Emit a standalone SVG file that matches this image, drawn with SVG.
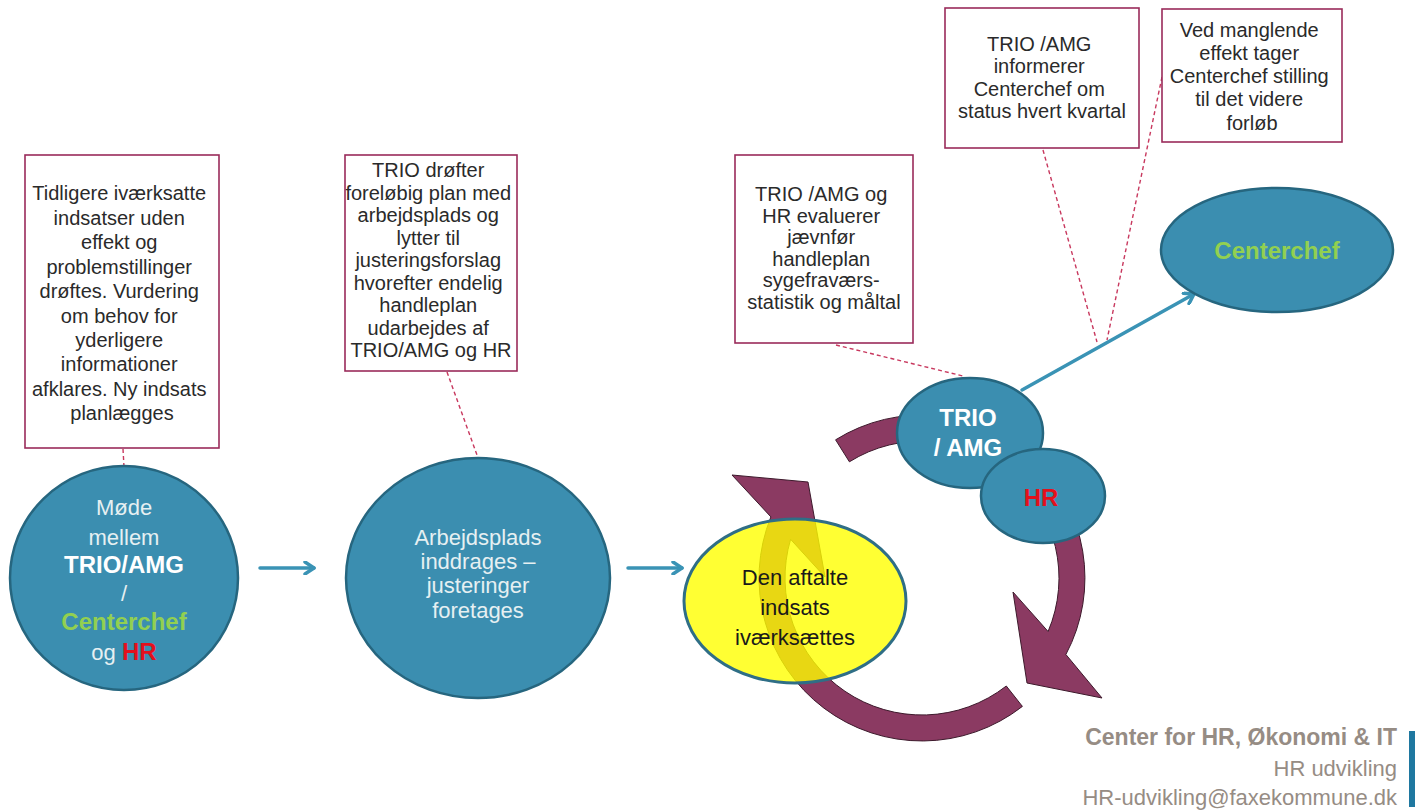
<svg xmlns="http://www.w3.org/2000/svg" width="1426" height="811" viewBox="0 0 1426 811">
<style>
.box{fill:#fff;stroke:#9A2B5A;stroke-width:1.6}
.bt{font-family:"Liberation Sans",Arial,sans-serif;font-size:20px;fill:#2a2a2a;text-anchor:middle}
.blue{fill:#3B8EB0;stroke:#26667F;stroke-width:2.5}
.ct{font-family:"Liberation Sans",Arial,sans-serif;font-size:22px;fill:#E6F0F2;text-anchor:middle}
.b{font-weight:bold;font-size:24px}
.w{fill:#FFFFFF}
.g{fill:#92D050}
.r{fill:#E3101C}
.dash{stroke:#C8385E;stroke-width:1.4;stroke-dasharray:4 3;fill:none}
.arr{stroke:#3A93B5;stroke-width:3.5;fill:none;stroke-linecap:round}
.cyc{fill:#8B3A62;stroke:#3D1A2C;stroke-width:1}
.ft{font-family:"Liberation Sans",Arial,sans-serif;fill:#968C84;text-anchor:end}
</style>
<defs>
<marker id="chev" markerWidth="14" markerHeight="14" refX="11" refY="7" orient="auto" markerUnits="userSpaceOnUse">
<path d="M2,1 L11,7 L2,13" fill="none" stroke="#3A93B5" stroke-width="3.5" stroke-linecap="round" stroke-linejoin="round"/>
</marker>
</defs>
<rect width="1426" height="811" fill="#fff"/>

<g id="cycle-arrows">
<path class="cyc" d="M835.6,439.8 A163,163 0 0 1 1065.9,654.5 L1102,698 L1027,683 L1013,592 L1048.1,631.5 A137,137 0 0 0 849.4,461.8 Z"/>
<path class="cyc" d="M1022.4,706.4 A163,163 0 0 1 770.9,516.9 L732,475 L808,482 L825,577 L790.6,539.3 A137,137 0 0 0 1006.3,686 Z"/>
</g>

<g id="connectors">
<line class="dash" x1="123" y1="449" x2="124" y2="467"/>
<line class="dash" x1="447" y1="372" x2="477" y2="455"/>
<line class="dash" x1="836" y1="345" x2="963" y2="376"/>
<line class="dash" x1="1043" y1="150" x2="1097" y2="342"/>
<line class="dash" x1="1162" y1="77" x2="1107" y2="340"/>
<line class="arr" x1="260" y1="568" x2="314" y2="568" marker-end="url(#chev)"/>
<line class="arr" x1="628" y1="568" x2="682" y2="568" marker-end="url(#chev)"/>
<line class="arr" x1="1022" y1="390" x2="1194" y2="294" marker-end="url(#chev)"/>
</g>

<g id="box-tidligere">
<rect class="box" x="25" y="155" width="194" height="293"/>
<text class="bt">
<tspan x="122" y="200">Tidligere iværksatte</tspan>
<tspan x="122" y="225">indsatser uden</tspan>
<tspan x="122" y="249">effekt  og</tspan>
<tspan x="122" y="274">problemstillinger</tspan>
<tspan x="122" y="298">drøftes. Vurdering</tspan>
<tspan x="122" y="323">om behov for</tspan>
<tspan x="122" y="347">yderligere</tspan>
<tspan x="122" y="371">informationer</tspan>
<tspan x="122" y="396">afklares. Ny indsats</tspan>
<tspan x="122" y="420">planlægges</tspan>
</text>
</g>

<g id="box-trio-droefter">
<rect class="box" x="345" y="155" width="172" height="216"/>
<text class="bt">
<tspan x="431" y="177">TRIO drøfter</tspan>
<tspan x="431" y="199.5">foreløbig  plan med</tspan>
<tspan x="431" y="222">arbejdsplads og</tspan>
<tspan x="431" y="244.5">lytter  til</tspan>
<tspan x="431" y="267">justeringsforslag</tspan>
<tspan x="431" y="289.5">hvorefter  endelig</tspan>
<tspan x="431" y="312">handleplan</tspan>
<tspan x="431" y="334.5">udarbejdes af</tspan>
<tspan x="431" y="357">TRIO/AMG og HR</tspan>
</text>
</g>

<g id="box-evaluerer">
<rect class="box" x="735" y="155" width="178" height="188"/>
<text class="bt">
<tspan x="824" y="201">TRIO /AMG og</tspan>
<tspan x="824" y="222.6">HR evaluerer</tspan>
<tspan x="824" y="244.2">jævnfør</tspan>
<tspan x="824" y="265.8">handleplan</tspan>
<tspan x="824" y="287.4">sygefraværs-</tspan>
<tspan x="824" y="309">statistik og måltal</tspan>
</text>
</g>

<g id="box-informerer">
<rect class="box" x="945" y="8" width="194" height="140"/>
<text class="bt">
<tspan x="1042" y="51">TRIO /AMG</tspan>
<tspan x="1042" y="73.3">informerer</tspan>
<tspan x="1042" y="95.6">Centerchef om</tspan>
<tspan x="1042" y="117.9">status hvert kvartal</tspan>
</text>
</g>

<g id="box-manglende">
<rect class="box" x="1162" y="9" width="180" height="133"/>
<text class="bt">
<tspan x="1252" y="36.5">Ved manglende</tspan>
<tspan x="1252" y="59.8">effekt  tager</tspan>
<tspan x="1252" y="83.1">Centerchef stilling</tspan>
<tspan x="1252" y="106.4">til det videre</tspan>
<tspan x="1252" y="129.7">forløb</tspan>
</text>
</g>

<g id="node-moede">
<ellipse class="blue" cx="124" cy="578" rx="114" ry="112"/>
<text class="ct" x="124" y="515">Møde</text>
<text class="ct" x="124" y="545">mellem</text>
<text class="ct b w" x="124" y="573">TRIO/AMG</text>
<text class="ct" x="124" y="601">/</text>
<text class="ct b g" x="124" y="630">Centerchef</text>
<text class="ct" x="124" y="660">og <tspan class="b r">HR</tspan></text>
</g>

<g id="node-arbejdsplads">
<ellipse class="blue" cx="478" cy="578" rx="132" ry="120"/>
<text class="ct" x="478" y="545">Arbejdsplads</text>
<text class="ct" x="478" y="569">inddrages –</text>
<text class="ct" x="478" y="593">justeringer</text>
<text class="ct" x="478" y="618">foretages</text>
</g>

<g id="node-indsats">
<ellipse cx="795" cy="601" rx="111" ry="82" fill="#FFFF00" fill-opacity="0.8" stroke="#2F6E86" stroke-width="3"/>
<text class="ct" style="fill:#1a1a1a" x="795" y="585">Den aftalte</text>
<text class="ct" style="fill:#1a1a1a" x="795" y="615">indsats</text>
<text class="ct" style="fill:#1a1a1a" x="795" y="645">iværksættes</text>
</g>

<g id="node-trio">
<ellipse class="blue" cx="970" cy="433" rx="73" ry="55"/>
<text class="ct b w" x="968" y="426">TRIO</text>
<text class="ct b w" x="968" y="456">/ AMG</text>
</g>

<g id="node-hr">
<ellipse class="blue" cx="1043" cy="496" rx="62" ry="47"/>
<text class="ct b r" x="1041" y="506">HR</text>
</g>

<g id="node-centerchef">
<ellipse class="blue" cx="1277" cy="250" rx="116" ry="62"/>
<text class="ct b g" x="1277" y="259">Centerchef</text>
</g>

<g id="footer">
<text class="ft" x="1397" y="745" font-size="23" font-weight="bold">Center for HR, Økonomi &amp; IT</text>
<text class="ft" x="1397" y="776" font-size="22">HR udvikling</text>
<text class="ft" x="1397" y="805" font-size="22">HR-udvikling@faxekommune.dk</text>
<rect x="1409" y="731" width="6" height="76" fill="#1F78A0"/>
</g>
</svg>
